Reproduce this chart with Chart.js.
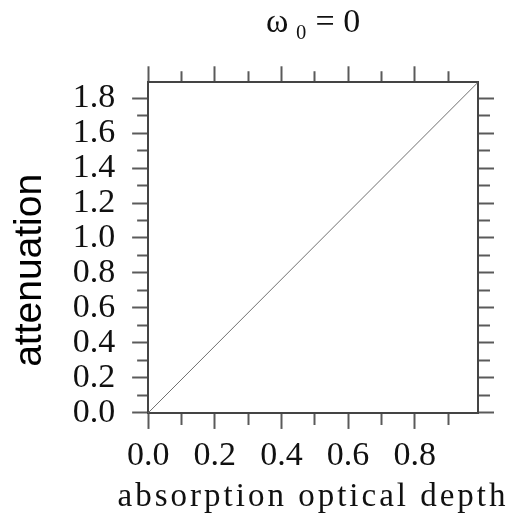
<!DOCTYPE html>
<html>
<head>
<meta charset="utf-8">
<script src="https://cdn.jsdelivr.net/npm/chart.js@4.4.1/dist/chart.umd.min.js"></script>
<style>
  html, body { margin: 0; padding: 0; background: #fff; }
  #wrap { width: 514px; height: 519px; }
</style>
</head>
<body>
<div id="wrap"><canvas id="myChart"></canvas></div>
<script>
// line data (absorption optical depth vs attenuation)
var depth = [0.0, 0.99];
var attenuation = [0.0, 1.89];

// axis ranges and tick positions (major every 0.2, minor every 0.1)
var x_range = [0, 0.99];
var y_range = [0, 1.89];
var x_ticks = [0.0, 0.1, 0.2, 0.3, 0.4, 0.5, 0.6, 0.7, 0.8, 0.9];
var y_ticks = [0.0, 0.1, 0.2, 0.3, 0.4, 0.5, 0.6, 0.7, 0.8, 0.9, 1.0,
               1.1, 1.2, 1.3, 1.4, 1.5, 1.6, 1.7, 1.8];

var serif = "'Liberation Serif', 'Times New Roman', serif";
var sans = "'Liberation Sans', Arial, sans-serif";

function isMajor(v) {
  return Math.round(v * 10) % 2 === 0;
}

var points = [];
for (let i = 0; i < depth.length; i++) {
  points.push({x: depth[i], y: attenuation[i]});
}

// ticks drawn from outer end -> inner end need the dash shifted
function dashOuterFirst(c) { return isMajor(c.tick.value) ? [] : [0, 5, 11, 100]; }
function dashInnerFirst(c) { return isMajor(c.tick.value) ? [] : [11, 100]; }

function gridOpts(dashFn) {
  return {
    drawOnChartArea: false,
    drawTicks: true,
    tickLength: 16,
    tickColor: '#5a5a5a',
    tickWidth: 2,
    tickBorderDash: dashFn
  };
}
var borderOpts = {display: true, color: '#444', width: 2};

function setTicks(list) {
  return function(scale) {
    scale.ticks = list.map(v => ({value: v}));
  };
}

// x title is letter-spaced in the original; widen its box so it isn't squeezed
var spacedTitle = {
  id: 'spacedTitle',
  beforeDraw(chart) {
    var sc = chart.scales.x;
    if (sc && !sc._spaced) {
      var orig = sc.drawTitle;
      sc.drawTitle = function() {
        var l = this.left, r = this.right;
        this.left = l - 60; this.right = r + 60;
        this.ctx.save();
        this.ctx.letterSpacing = '3px';
        orig.call(this);
        this.ctx.restore();
        this.left = l; this.right = r;
      };
      sc._spaced = true;
    }
  }
};

var ctx = document.getElementById('myChart').getContext('2d');
var chart = new Chart(ctx, {
  type: 'line',
  data: {
    datasets: [{
      label: 'attenuation',
      data: points,
      borderColor: '#707070',
      borderWidth: 1,
      pointRadius: 0,
      fill: false,
      tension: 0,
      xAxisID: 'x',
      yAxisID: 'y'
    }]
  },
  options: {
    responsive: true,
    maintainAspectRatio: false,
    animation: false,
    layout: { padding: {left: 0, right: 20, top: 0, bottom: 0} },
    plugins: {
      legend: {display: false},
      tooltip: {enabled: false},
      title: {
        display: true, position: 'left', fullSize: true,
        text: 'attenuation\u00a0\u00a0', color: '#000',
        font: {family: sans, size: 39, weight: 'normal'},
        padding: {top: 7, bottom: 12}
      }
    },
    scales: {
      x: {
        type: 'linear', position: 'bottom',
        min: x_range[0], max: x_range[1],
        afterBuildTicks: setTicks(x_ticks),
        ticks: {
          autoSkip: false, maxRotation: 0, minRotation: 0,
          padding: 10.5, color: '#111',
          font: {family: serif, size: 34, lineHeight: 1},
          callback: v => isMajor(v) ? v.toFixed(1) : ''
        },
        grid: gridOpts(dashInnerFirst),
        border: borderOpts,
        title: {
          display: true, text: 'absorption optical depth', color: '#111',
          font: {family: serif, size: 33, lineHeight: 0.79}, padding: {top: 0, bottom: 9}
        }
      },
      x2: {
        type: 'linear', position: 'top',
        min: x_range[0], max: x_range[1],
        afterBuildTicks: setTicks(x_ticks),
        ticks: {display: false, autoSkip: false},
        grid: gridOpts(dashOuterFirst),
        border: borderOpts,
        title: {
          display: true, text: 'ω\u2009₀ = 0', color: '#111',
          font: {family: serif, size: 34}, padding: {top: 3, bottom: 22.5}
        }
      },
      y: {
        type: 'linear', position: 'left',
        min: y_range[0], max: y_range[1],
        afterBuildTicks: setTicks(y_ticks),
        ticks: {
          autoSkip: false, padding: 17, color: '#111',
          font: {family: serif, size: 34},
          callback: v => isMajor(v) ? v.toFixed(1) : ''
        },
        grid: gridOpts(dashOuterFirst),
        border: borderOpts
      },
      y2: {
        type: 'linear', position: 'right',
        min: y_range[0], max: y_range[1],
        afterBuildTicks: setTicks(y_ticks),
        ticks: {display: false, autoSkip: false},
        grid: gridOpts(dashInnerFirst),
        border: borderOpts
      }
    }
  },
  plugins: [spacedTitle]
});
</script>
</body>
</html>
